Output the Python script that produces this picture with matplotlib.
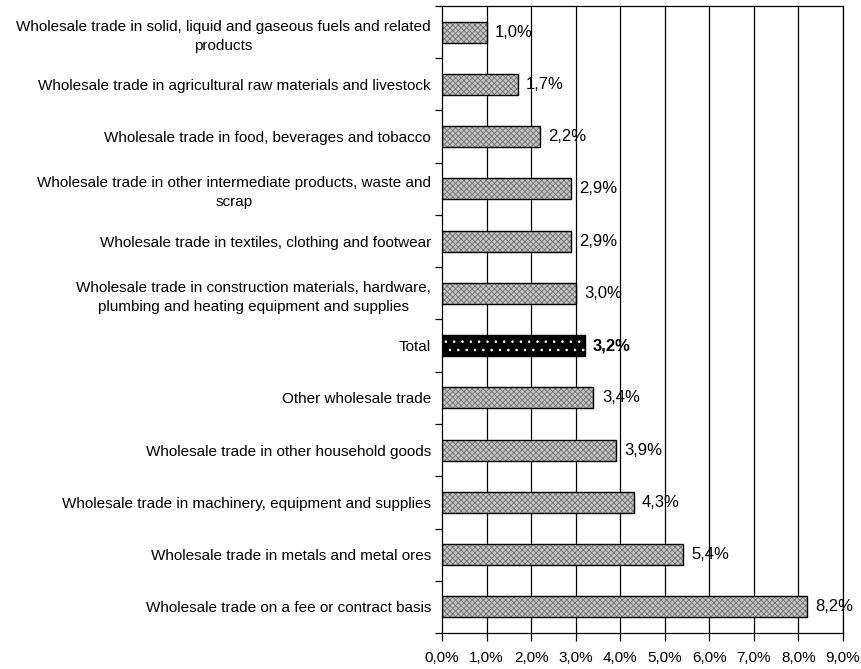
import matplotlib
matplotlib.use("Agg")
import matplotlib.pyplot as plt
import numpy as np

categories = [
    "Wholesale trade in solid, liquid and gaseous fuels and related\nproducts",
    "Wholesale trade in agricultural raw materials and livestock",
    "Wholesale trade in food, beverages and tobacco",
    "Wholesale trade in other intermediate products, waste and\nscrap",
    "Wholesale trade in textiles, clothing and footwear",
    "Wholesale trade in construction materials, hardware,\nplumbing and heating equipment and supplies",
    "Total",
    "Other wholesale trade",
    "Wholesale trade in other household goods",
    "Wholesale trade in machinery, equipment and supplies",
    "Wholesale trade in metals and metal ores",
    "Wholesale trade on a fee or contract basis",
]
values = [1.0, 1.7, 2.2, 2.9, 2.9, 3.0, 3.2, 3.4, 3.9, 4.3, 5.4, 8.2]
value_labels = ["1,0%", "1,7%", "2,2%", "2,9%", "2,9%", "3,0%", "3,2%", "3,4%", "3,9%", "4,3%", "5,4%", "8,2%"]
xticks = [0, 1, 2, 3, 4, 5, 6, 7, 8, 9]
xtick_labels = ["0,0%", "1,0%", "2,0%", "3,0%", "4,0%", "5,0%", "6,0%", "7,0%", "8,0%", "9,0%"]

plt.rcParams['font.family'] = ['Liberation Sans', 'DejaVu Sans']
plt.rcParams['hatch.linewidth'] = 0.6

fig = plt.figure(figsize=(8.61, 6.69), dpi=100)
ax = fig.add_axes([442/861, 1-633/669, (843-442)/861, (633-6)/669])

n = len(categories)
y = np.arange(n)[::-1]
is_total = [c == "Total" for c in categories]

ax.set_axisbelow(True)
for xv in xticks[1:]:
    ax.axvline(xv, color='black', lw=0.9, zorder=1)

h = 0.4
for yi, v, tot in zip(y, values, is_total):
    if tot:
        ax.barh(yi, v, height=h, color='black', hatch='..', edgecolor='white', lw=0, zorder=2)
    else:
        ax.barh(yi, v, height=h, color='#c4c4c4', hatch='xxxxxx', edgecolor='#707070', lw=0, zorder=2)
    ax.barh(yi, v, height=h, facecolor='none', edgecolor='black', lw=1.0, zorder=3)

for yi, v, lab, tot in zip(y, values, value_labels, is_total):
    ax.annotate(lab, (v, yi), xytext=(6, 0), textcoords='offset points',
                va='center', ha='left', fontsize=12,
                fontweight='bold' if tot else 'normal', zorder=4)

ax.set_xlim(0, 9)
ax.set_ylim(-0.5, n - 0.5)
ax.set_xticks(xticks)
ax.set_xticklabels(xtick_labels, fontsize=11)
ax.set_yticks(y)
ax.set_yticklabels(categories, fontsize=11, multialignment='center', linespacing=1.45)
ax.set_yticks(np.arange(n + 1) - 0.5, minor=True)
ax.tick_params(axis='y', which='major', length=0, pad=8)
ax.tick_params(axis='y', which='minor', length=5, width=0.9, direction='out')
ax.tick_params(axis='x', which='major', length=6, width=0.9, direction='out', pad=7)

for s in ['left', 'bottom', 'top', 'right']:
    ax.spines[s].set_linewidth(0.9)
    ax.spines[s].set_color('black')

fig.savefig("out.png", dpi=100)
